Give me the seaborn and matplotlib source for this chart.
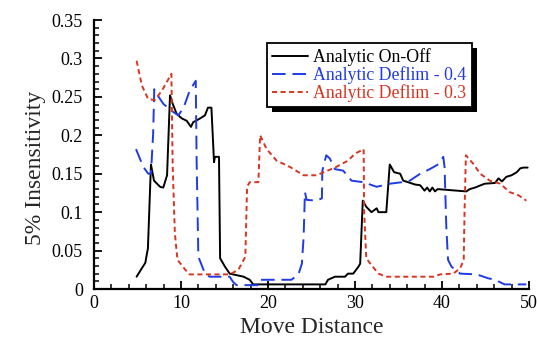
import matplotlib
matplotlib.use("Agg")
import matplotlib.pyplot as plt
import seaborn as sns
import pandas as pd
from matplotlib.patches import Rectangle
from matplotlib.transforms import IdentityTransform
from matplotlib.ticker import MultipleLocator, FuncFormatter

# ---- data ----
onoff_x = [4.9, 5.5, 5.9, 6.2, 6.55, 6.9, 7.6, 7.97, 8.4, 8.74, 9.05, 9.5, 10.1, 10.65, 11.15, 11.4,
           12.2, 12.76, 13.1, 13.5, 13.8, 13.9, 14.37, 14.5, 15.06, 15.6, 16.4, 17.2, 17.9, 18.3,
           26.6, 26.9, 27.7, 28.85, 29.2, 29.8, 30.4, 30.6, 30.9, 31.3, 31.9, 32.5, 32.7, 33.6,
           34.0, 34.5, 35.2, 35.55, 36.1, 36.9, 37.5, 38.0, 38.3, 38.6, 38.9, 39.2, 39.5, 42.8,
           43.2, 43.8, 44.9, 46.1, 46.5, 46.9, 47.4, 48.0, 48.6, 49.0, 49.35, 49.85]
onoff_y = [0.016, 0.027, 0.034, 0.053, 0.162, 0.141, 0.133, 0.132, 0.148, 0.252, 0.241, 0.228,
           0.222, 0.219, 0.211, 0.217, 0.222, 0.226, 0.236, 0.236, 0.165, 0.172, 0.172, 0.040,
           0.029, 0.020, 0.018, 0.016, 0.012, 0.006, 0.006, 0.012, 0.016, 0.016, 0.020, 0.020,
           0.029, 0.033, 0.115, 0.107, 0.100, 0.105, 0.100, 0.100, 0.162, 0.152, 0.150, 0.141,
           0.139, 0.136, 0.135, 0.128, 0.132, 0.127, 0.132, 0.127, 0.130, 0.127, 0.130, 0.132,
           0.137, 0.138, 0.144, 0.140, 0.146, 0.148, 0.152, 0.157, 0.158, 0.158]

d04_x = [4.83, 5.67, 6.24, 6.55, 6.8, 6.93, 7.2, 7.97, 8.9, 9.7, 10.3, 11.0, 11.7, 11.8, 12.0,
         12.76, 13.3, 15.6, 16.0, 16.4, 18.9, 19.1, 22.7, 23.5, 23.9, 24.1, 24.25, 24.45, 25.6,
         26.2, 26.25, 26.7, 27.1, 27.7, 28.65, 29.6, 30.95, 32.5, 34.0, 35.4, 36.3, 37.5, 38.6,
         39.7, 40.15, 40.3, 40.5, 40.7, 41.1, 42.1, 44.0, 45.3, 46.1, 47.2, 49.7]
d04_y = [0.182, 0.159, 0.150, 0.150, 0.202, 0.260, 0.254, 0.241, 0.232, 0.226, 0.236, 0.258,
         0.271, 0.167, 0.042, 0.020, 0.016, 0.016, 0.009, 0.005, 0.005, 0.012, 0.012, 0.019,
         0.033, 0.068, 0.126, 0.116, 0.115, 0.118, 0.154, 0.174, 0.170, 0.156, 0.154, 0.141,
         0.139, 0.133, 0.137, 0.139, 0.141, 0.150, 0.156, 0.163, 0.172, 0.159, 0.081, 0.038,
         0.029, 0.020, 0.019, 0.014, 0.012, 0.006, 0.006]

d03_x = [4.9, 5.5, 6.24, 7.0, 7.8, 8.35, 8.9, 9.05, 9.3, 9.6, 10.5, 11.0, 15.6, 16.6, 17.4, 17.6,
         17.9, 18.9, 19.1, 19.85, 21.0, 22.5, 24.1, 25.6, 26.0, 27.7, 29.2, 30.0, 31.0, 31.05,
         31.3, 31.9, 32.7, 33.6, 39.0, 39.8, 41.3, 42.1, 42.5, 42.6, 42.75, 43.6, 44.4, 45.5,
         46.7, 47.8, 48.8, 49.7]
d03_y = [0.297, 0.265, 0.247, 0.246, 0.258, 0.269, 0.280, 0.159, 0.072, 0.038, 0.025, 0.019,
         0.019, 0.025, 0.042, 0.133, 0.139, 0.139, 0.200, 0.182, 0.167, 0.159, 0.148, 0.148,
         0.150, 0.158, 0.167, 0.176, 0.182, 0.102, 0.040, 0.031, 0.020, 0.016, 0.016, 0.019,
         0.020, 0.027, 0.038, 0.102, 0.174, 0.163, 0.150, 0.141, 0.137, 0.126, 0.122, 0.115]

labels = ["Analytic On-Off", "Analytic Deflim - 0.4", "Analytic Deflim - 0.3"]
x_label = "Move Distance"
y_label = "5% Insensitivity"

# ---- style ----
sns.set_style("ticks")
plt.rcParams["font.family"] = ["Liberation Serif", "DejaVu Serif"]

fig = plt.figure(figsize=(5.37, 3.40), dpi=100)
ax = fig.add_axes([0.175, 0.15, 0.81, 0.791])

colors = ["#000000", "#1f3be6", "#d93420"]
series = [(onoff_x, onoff_y), (d04_x, d04_y), (d03_x, d03_y)]
dashes = [(None, None), (7, 3.5), (2.6, 1.8)]

for (xs, ys), lab, col, ds in zip(series, labels, colors, dashes):
    df = pd.DataFrame({"x": xs, "y": ys})
    sns.lineplot(data=df, x="x", y="y", ax=ax, estimator=None, sort=False,
                 color=col, linewidth=1.4, label=lab)
    ln = ax.lines[-1]
    if ds[0] is not None:
        ln.set_dashes(ds)

ax.set_xlim(0, 50)
ax.set_ylim(0, 0.35)
ax.xaxis.set_major_locator(MultipleLocator(10))
ax.xaxis.set_minor_locator(MultipleLocator(2))
ax.yaxis.set_major_locator(MultipleLocator(0.05))
ax.yaxis.set_minor_locator(MultipleLocator(0.01))
ax.yaxis.set_major_formatter(FuncFormatter(lambda v, p: f"{v:.2f}".rstrip("0").rstrip(".") if v else "0"))

for s in ["top", "right"]:
    ax.spines[s].set_visible(False)
for s in ["left", "bottom"]:
    ax.spines[s].set_linewidth(1.6)
    ax.spines[s].set_color("black")

ax.tick_params(which="major", direction="in", length=6, width=1.3, labelsize=13, colors="black")
ax.tick_params(axis="y", which="major", pad=8)
ax.tick_params(axis="x", which="major", pad=4)
ax.tick_params(which="minor", direction="in", length=3.5, width=1.1, colors="black")

ax.set_xlabel(x_label, fontsize=17, labelpad=4)
ax.set_ylabel(y_label, fontsize=17)
ax.yaxis.set_label_coords(-0.11, 0.45)

leg = ax.legend(loc="upper left", bbox_to_anchor=(0.398, 0.914), borderaxespad=0,
                fancybox=False, frameon=True, edgecolor="black", framealpha=1,
                fontsize=12.8, labelcolor="linecolor", handlelength=2.0, handletextpad=0.3,
                labelspacing=0.0, borderpad=0.3)
leg.get_frame().set_linewidth(1.3)
leg.set_zorder(6)

fig.canvas.draw()
bb = leg.get_window_extent()
off = 5
shadow = Rectangle((bb.x0 + off, bb.y0 - off), bb.width, bb.height, transform=IdentityTransform(),
                   facecolor="black", edgecolor="none", zorder=5.5, clip_on=False)
ax.add_artist(shadow)
ax.set_xlim(0, 50)
ax.set_ylim(0, 0.35)

fig.savefig("out.png", dpi=100)
